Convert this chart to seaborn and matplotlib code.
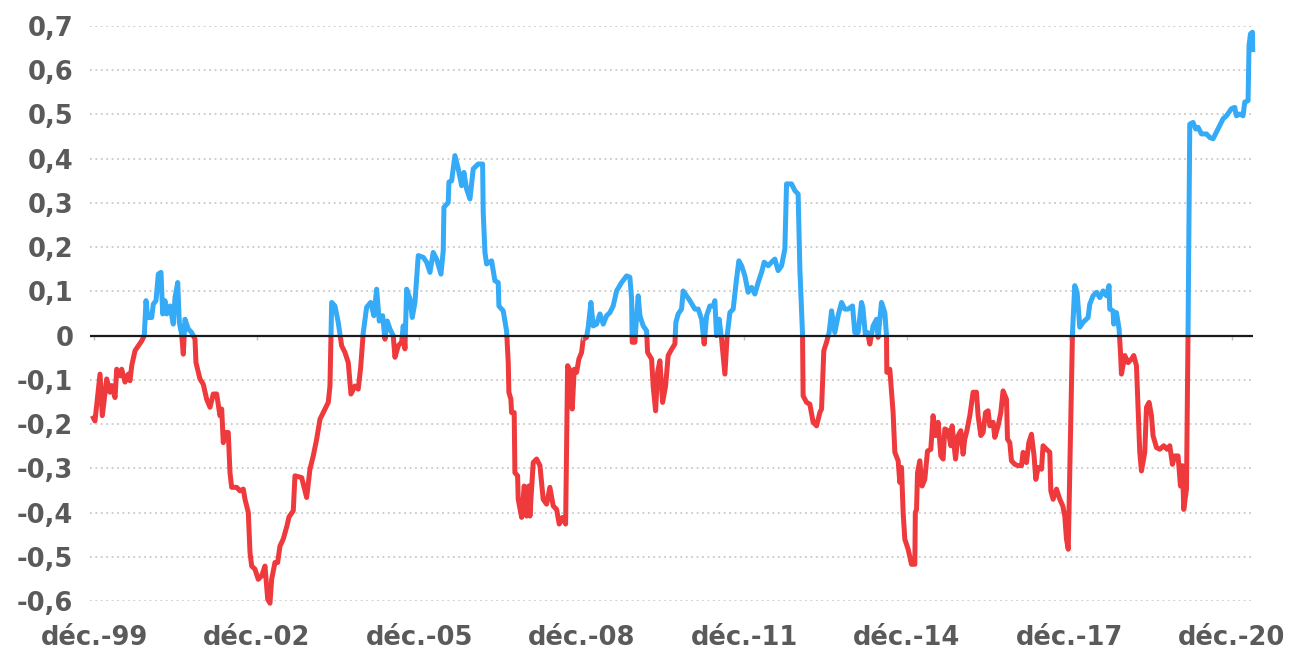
import numpy as np
import pandas as pd
import matplotlib
matplotlib.use("Agg")
import matplotlib.pyplot as plt
from matplotlib.patches import Rectangle
import seaborn as sns

# ---- data (decimal year, value) ----
dates_dec = [
    1999.886, 1999.935, 2000.028, 2000.070, 2000.151, 2000.212, 2000.244, 2000.305, 2000.336, 2000.397,
    2000.428, 2000.489, 2000.550, 2000.581, 2000.613, 2000.674, 2000.735, 2000.797, 2000.845, 2000.877,
    2000.908, 2000.982, 2001.011, 2001.061, 2001.104, 2001.153, 2001.185, 2001.227, 2001.259, 2001.320,
    2001.380, 2001.412, 2001.462, 2001.491, 2001.535, 2001.565, 2001.596, 2001.657, 2001.720, 2001.781,
    2001.799, 2001.873, 2001.934, 2001.997, 2002.058, 2002.119, 2002.181, 2002.242, 2002.274, 2002.303,
    2002.335, 2002.395, 2002.427, 2002.458, 2002.550, 2002.611, 2002.672, 2002.704, 2002.765, 2002.796,
    2002.827, 2002.888, 2002.949, 2003.012, 2003.073, 2003.123, 2003.165, 2003.196, 2003.257, 2003.307,
    2003.349, 2003.410, 2003.479, 2003.516, 2003.595, 2003.626, 2003.750, 2003.842, 2003.903, 2003.964,
    2004.027, 2004.088, 2004.180, 2004.241, 2004.272, 2004.304, 2004.364, 2004.425, 2004.488, 2004.549,
    2004.610, 2004.660, 2004.734, 2004.794, 2004.839, 2004.887, 2004.949, 2005.023, 2005.084, 2005.134,
    2005.182, 2005.245, 2005.287, 2005.330, 2005.379, 2005.440, 2005.472, 2005.533, 2005.595, 2005.625,
    2005.656, 2005.688, 2005.749, 2005.791, 2005.841, 2005.902, 2005.994, 2006.057, 2006.118, 2006.178,
    2006.241, 2006.321, 2006.363, 2006.376, 2006.455, 2006.468, 2006.518, 2006.579, 2006.640, 2006.703,
    2006.745, 2006.795, 2006.856, 2006.917, 2007.009, 2007.090, 2007.101, 2007.133, 2007.164, 2007.256,
    2007.317, 2007.378, 2007.391, 2007.470, 2007.533, 2007.563, 2007.575, 2007.612, 2007.625, 2007.673,
    2007.677, 2007.686, 2007.736, 2007.747, 2007.810, 2007.858, 2007.902, 2007.944, 2007.963, 2008.024,
    2008.087, 2008.148, 2008.208, 2008.271, 2008.332, 2008.393, 2008.456, 2008.504, 2008.567, 2008.622,
    2008.659, 2008.720, 2008.744, 2008.781, 2008.825, 2008.867, 2008.917, 2008.947, 2009.009, 2009.039,
    2009.089, 2009.131, 2009.194, 2009.255, 2009.316, 2009.378, 2009.439, 2009.500, 2009.563, 2009.655,
    2009.748, 2009.808, 2009.840, 2009.851, 2009.901, 2009.932, 2009.962, 2009.993, 2010.054, 2010.117,
    2010.135, 2010.209, 2010.238, 2010.283, 2010.320, 2010.362, 2010.412, 2010.467, 2010.515, 2010.578,
    2010.639, 2010.657, 2010.700, 2010.762, 2010.792, 2010.855, 2010.916, 2011.008, 2011.069, 2011.132,
    2011.180, 2011.224, 2011.285, 2011.346, 2011.377, 2011.408, 2011.456, 2011.501, 2011.562, 2011.604,
    2011.654, 2011.715, 2011.777, 2011.820, 2011.870, 2011.931, 2011.991, 2012.054, 2012.115, 2012.176,
    2012.239, 2012.287, 2012.361, 2012.423, 2012.484, 2012.545, 2012.608, 2012.669, 2012.700, 2012.792,
    2012.853, 2012.914, 2012.946, 2012.995, 2013.006, 2013.069, 2013.130, 2013.191, 2013.254, 2013.315,
    2013.346, 2013.388, 2013.438, 2013.486, 2013.531, 2013.591, 2013.652, 2013.715, 2013.776, 2013.837,
    2013.918, 2013.960, 2014.021, 2014.084, 2014.108, 2014.154, 2014.195, 2014.237, 2014.298, 2014.361,
    2014.390, 2014.453, 2014.514, 2014.545, 2014.551, 2014.606, 2014.667, 2014.699, 2014.760, 2014.791,
    2014.822, 2014.852, 2014.883, 2014.944, 2015.007, 2015.068, 2015.077, 2015.099, 2015.118, 2015.160,
    2015.202, 2015.252, 2015.302, 2015.363, 2015.405, 2015.450, 2015.498, 2015.548, 2015.590, 2015.621,
    2015.682, 2015.732, 2015.756, 2015.819, 2015.867, 2015.917, 2015.959, 2015.990, 2016.022, 2016.083,
    2016.144, 2016.206, 2016.236, 2016.286, 2016.328, 2016.373, 2016.420, 2016.452, 2016.513, 2016.544,
    2016.605, 2016.655, 2016.697, 2016.760, 2016.778, 2016.821, 2016.852, 2016.913, 2016.974, 2017.037,
    2017.066, 2017.129, 2017.172, 2017.221, 2017.269, 2017.301, 2017.343, 2017.406, 2017.435, 2017.498,
    2017.559, 2017.578, 2017.620, 2017.683, 2017.744, 2017.799, 2017.836, 2017.867, 2017.900, 2017.978,
    2018.020, 2018.063, 2018.113, 2018.174, 2018.266, 2018.297, 2018.358, 2018.421, 2018.482, 2018.543,
    2018.605, 2018.653, 2018.666, 2018.727, 2018.740, 2018.790, 2018.838, 2018.864, 2018.882, 2018.943,
    2019.004, 2019.067, 2019.109, 2019.159, 2019.220, 2019.251, 2019.312, 2019.344, 2019.392, 2019.436,
    2019.465, 2019.528, 2019.589, 2019.663, 2019.724, 2019.774, 2019.823, 2019.866, 2019.927, 2019.971,
    2020.008, 2020.032, 2020.082, 2020.111, 2020.143, 2020.204, 2020.253, 2020.296, 2020.359, 2020.451,
    2020.512, 2020.573, 2020.635, 2020.696, 2020.757, 2020.820, 2020.912, 2020.973, 2021.004, 2021.065,
    2021.126, 2021.158, 2021.219, 2021.237, 2021.263, 2021.300, 2021.305,
]
ratio = [
    -0.181, -0.193, -0.087, -0.181, -0.098, -0.128, -0.113, -0.140, -0.076, -0.091,
    -0.076, -0.105, -0.087, -0.102, -0.068, -0.034, -0.023, -0.012, 0.000, 0.079,
    0.041, 0.041, 0.071, 0.079, 0.139, 0.143, 0.049, 0.079, 0.049, 0.067,
    0.026, 0.086, 0.120, 0.030, 0.003, -0.042, 0.037, 0.015, 0.007, -0.008,
    -0.061, -0.098, -0.110, -0.144, -0.162, -0.132, -0.132, -0.181, -0.166, -0.242,
    -0.219, -0.219, -0.310, -0.343, -0.343, -0.351, -0.347, -0.370, -0.400, -0.490,
    -0.521, -0.528, -0.551, -0.543, -0.521, -0.596, -0.605, -0.551, -0.513, -0.513,
    -0.476, -0.460, -0.430, -0.410, -0.396, -0.317, -0.321, -0.366, -0.302, -0.272,
    -0.234, -0.189, -0.166, -0.151, -0.114, 0.075, 0.067, 0.030, -0.023, -0.038,
    -0.061, -0.132, -0.114, -0.121, -0.072, 0.007, 0.064, 0.075, 0.045, 0.105,
    0.033, 0.045, -0.008, 0.033, 0.015, 0.000, -0.049, -0.023, -0.015, 0.022,
    -0.030, 0.105, 0.083, 0.041, 0.075, 0.181, 0.177, 0.166, 0.143, 0.188,
    0.173, 0.139, 0.192, 0.290, 0.301, 0.347, 0.350, 0.407, 0.377, 0.339,
    0.369, 0.331, 0.309, 0.377, 0.388, 0.388, 0.279, 0.188, 0.162, 0.169,
    0.124, 0.120, 0.067, 0.056, 0.010, -0.061, -0.128, -0.144, -0.174, -0.174,
    -0.211, -0.310, -0.317, -0.370, -0.411, -0.340, -0.408, -0.340, -0.408, -0.287,
    -0.279, -0.294, -0.370, -0.381, -0.343, -0.385, -0.393, -0.426, -0.411, -0.426,
    -0.068, -0.083, -0.166, -0.076, -0.083, -0.053, -0.038, -0.008, -0.004, 0.019,
    0.075, 0.022, 0.026, 0.049, 0.026, 0.045, 0.052, 0.067, 0.101, 0.120,
    0.135, 0.132, 0.083, -0.015, -0.015, 0.045, 0.090, 0.045, 0.022, 0.011,
    -0.038, -0.053, -0.114, -0.170, -0.083, -0.057, -0.151, -0.114, -0.045, -0.031,
    -0.019, 0.030, 0.049, 0.060, 0.101, 0.090, 0.079, 0.060, 0.060, 0.037,
    -0.019, 0.045, 0.067, 0.067, 0.079, 0.000, 0.037, -0.008, -0.087, 0.000,
    0.052, 0.060, 0.128, 0.169, 0.158, 0.135, 0.098, 0.109, 0.094, 0.120,
    0.143, 0.166, 0.158, 0.166, 0.173, 0.147, 0.158, 0.196, 0.343, 0.343,
    0.328, 0.320, 0.150, 0.003, -0.136, -0.151, -0.155, -0.196, -0.204, -0.174,
    -0.166, -0.034, -0.015, 0.007, 0.056, 0.007, 0.045, 0.075, 0.060, 0.060,
    0.067, 0.007, 0.007, 0.075, 0.064, 0.003, 0.007, -0.019, 0.022, 0.037,
    -0.004, 0.075, 0.052, 0.000, -0.083, -0.076, -0.174, -0.264, -0.283, -0.332,
    -0.298, -0.400, -0.460, -0.483, -0.517, -0.517, -0.400, -0.393, -0.310, -0.283,
    -0.340, -0.325, -0.261, -0.257, -0.181, -0.226, -0.196, -0.272, -0.279, -0.211,
    -0.215, -0.249, -0.204, -0.279, -0.226, -0.215, -0.268, -0.234, -0.219, -0.181,
    -0.128, -0.128, -0.181, -0.226, -0.219, -0.174, -0.170, -0.204, -0.196, -0.230,
    -0.204, -0.174, -0.125, -0.144, -0.234, -0.242, -0.283, -0.291, -0.294, -0.294,
    -0.264, -0.287, -0.242, -0.223, -0.272, -0.325, -0.298, -0.302, -0.249, -0.257,
    -0.264, -0.351, -0.370, -0.347, -0.370, -0.385, -0.408, -0.460, -0.483, 0.007,
    0.113, 0.098, 0.019, 0.030, 0.041, 0.071, 0.090, 0.098, 0.086, 0.101,
    0.090, 0.113, 0.060, 0.056, 0.026, 0.052, 0.015, -0.038, -0.087, -0.045,
    -0.061, -0.053, -0.045, -0.068, -0.264, -0.306, -0.264, -0.162, -0.151, -0.181,
    -0.226, -0.253, -0.257, -0.249, -0.257, -0.249, -0.291, -0.272, -0.272, -0.340,
    -0.294, -0.393, -0.347, 0.007, 0.478, 0.482, 0.467, 0.471, 0.456, 0.456,
    0.448, 0.445, 0.460, 0.475, 0.490, 0.497, 0.513, 0.516, 0.497, 0.501,
    0.497, 0.528, 0.531, 0.656, 0.682, 0.686, 0.641,
]

tick_years = [1999.917, 2002.917, 2005.917, 2008.917, 2011.917, 2014.917, 2017.917, 2020.917]
tick_labels = ["déc.-99", "déc.-02", "déc.-05", "déc.-08", "déc.-11", "déc.-14", "déc.-17", "déc.-20"]
y_ticks = [-0.6, -0.5, -0.4, -0.3, -0.2, -0.1, 0.0, 0.1, 0.2, 0.3, 0.4, 0.5, 0.6, 0.7]
y_labels = ["-0,6", "-0,5", "-0,4", "-0,3", "-0,2", "-0,1", "0", "0,1", "0,2", "0,3", "0,4", "0,5", "0,6", "0,7"]

df = pd.DataFrame({"date": dates_dec, "value": ratio})

BLUE = "#35aaf6"
RED = "#ef3a3d"
TXT = "#5a5a5a"

sns.set_theme(style="white")
plt.rcParams["font.family"] = ["DejaVu Sans"]

fig = plt.figure(figsize=(12.95, 6.51), dpi=100)
ax = fig.add_axes([90 / 1295, 1 - 601 / 651, (1253 - 90) / 1295, (601 - 26) / 651])

xmin, xmax = 1999.843, 2021.31
ax.set_xlim(xmin, xmax)
ax.set_ylim(-0.6, 0.7)

# dotted gridlines
for yv in y_ticks:
    if yv != 0.0:
        ax.axhline(yv, color="#c9c9c9", lw=1.3, linestyle=(0, (1, 2)), zorder=0)

n0 = len(ax.lines)
sns.lineplot(data=df, x="date", y="value", ax=ax, color=BLUE, lw=3.6,
             estimator=None, sort=False, legend=False)
blue_line = ax.lines[n0]
sns.lineplot(data=df, x="date", y="value", ax=ax, color=RED, lw=3.6,
             estimator=None, sort=False, legend=False)
red_line = ax.lines[n0 + 1]
for ln in (blue_line, red_line):
    ln.set_solid_joinstyle("round")
    ln.set_solid_capstyle("butt")

clip_up = Rectangle((xmin - 1, 0.0), (xmax - xmin) + 2, 2.0, transform=ax.transData)
clip_dn = Rectangle((xmin - 1, -2.0), (xmax - xmin) + 2, 2.0, transform=ax.transData)
blue_line.set_clip_path(clip_up)
red_line.set_clip_path(clip_dn)

# zero axis line and small ticks
ax.axhline(0, color="#1a1a1a", lw=1.6, zorder=5)
ax.vlines(tick_years, -0.010, 0, color="#c0c0c0", lw=1.0, zorder=4)

ax.set_yticks(y_ticks)
ax.set_yticklabels(y_labels)
ax.set_xticks(tick_years)
ax.set_xticklabels(tick_labels)
ax.tick_params(axis="y", length=0, pad=12, labelsize=18.5, labelcolor=TXT)
ax.tick_params(axis="x", length=0, pad=17, labelsize=18.5, labelcolor=TXT)
for lab in ax.get_xticklabels() + ax.get_yticklabels():
    lab.set_fontweight("bold")

ax.set_xlabel("")
ax.set_ylabel("")
for s in ax.spines.values():
    s.set_visible(False)
ax.grid(False)

fig.savefig("out.png", dpi=100)
